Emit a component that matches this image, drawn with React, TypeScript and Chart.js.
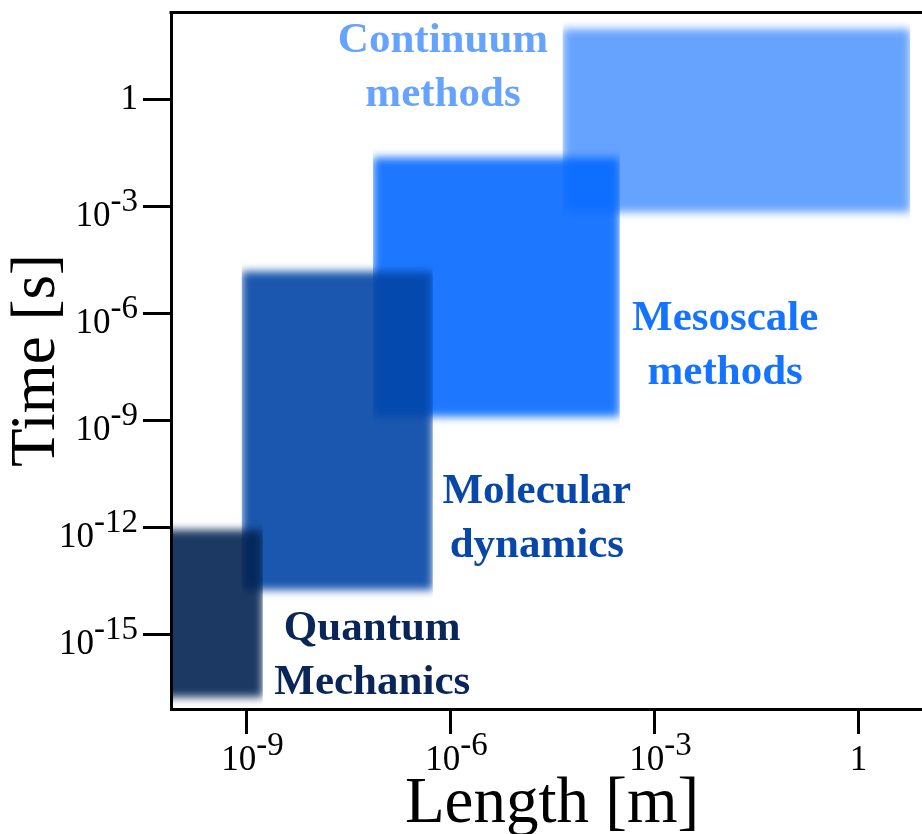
import React, { useEffect, useRef } from 'react';
import { Chart, registerables } from 'chart.js';

Chart.register(...registerables);

// ---- data (log10 values) ----
const methods = ['Quantum Mechanics', 'Molecular dynamics', 'Mesoscale methods', 'Continuum methods'];
const lengthFrom = [-10.3, -9.07, -7.14, -4.35]; // log10 length [m]
const lengthTo = [-8.76, -6.26, -3.51, 0.76];
const timeFrom = [-16.77, -13.76, -8.9, -3.17]; // log10 time [s]
const timeTo = [-12.08, -4.83, -1.63, 1.97];
const xTickExponents = [-9, -6, -3, 0];
const yTickExponents = [0, -3, -6, -9, -12, -15];
const labelLines = [
  ['Quantum', 'Mechanics'],
  ['Molecular', 'dynamics'],
  ['Mesoscale', 'methods'],
  ['Continuum', 'methods'],
];

// ---- styles ----
const fillColors = [
  'rgba(3,35,83,0.9)',
  'rgba(2,69,165,0.9)',
  'rgba(5,105,255,0.9)',
  'rgba(85,153,255,0.9)',
];
const textColors = ['#0a2659', '#0747aa', '#1474ff', '#66a3ff'];
// label anchors (data units): centre x, first baseline y
const labelAnchorX = [-7.15, -4.73, -1.96, -6.11];
const labelAnchorY = [-15.17, -11.32, -6.46, 1.32];
const SERIF = '"Liberation Serif", "Times New Roman", serif';

function drawPower(ctx: CanvasRenderingContext2D, exp: number, x: number, baseY: number, mode: 'right' | 'center') {
  ctx.fillStyle = '#000';
  ctx.textBaseline = 'alphabetic';
  ctx.textAlign = 'left';
  if (exp === 0) {
    ctx.font = `35px ${SERIF}`;
    const w = ctx.measureText('1').width;
    const sx = mode === 'right' ? x - w : x - w / 2;
    ctx.fillText('1', sx, baseY);
    return;
  }
  ctx.font = `35px ${SERIF}`;
  const w1 = ctx.measureText('10').width;
  ctx.font = `33px ${SERIF}`;
  const es = String(exp);
  const w2 = ctx.measureText(es).width;
  const sx = mode === 'right' ? x - w1 - w2 : x - (w1 + w2) / 2 + 6;
  ctx.font = `35px ${SERIF}`;
  ctx.fillText('10', sx, baseY);
  ctx.font = `33px ${SERIF}`;
  ctx.fillText(es, sx + w1, baseY - 15);
}

const blurPlugin = {
  id: 'blurBoxes',
  beforeDatasetsDraw(chart: any) {
    chart.ctx.save();
    chart.ctx.filter = 'blur(4px)';
  },
  afterDatasetsDraw(chart: any) {
    chart.ctx.restore();
  },
};

const decorPlugin = {
  id: 'decor',
  afterDraw(chart: any) {
    const ctx: CanvasRenderingContext2D = chart.ctx;
    const { left, top } = chart.chartArea;
    const xs = chart.scales.x;
    const ys = chart.scales.y;
    ctx.save();
    // top frame line
    ctx.strokeStyle = '#000';
    ctx.lineWidth = 3;
    ctx.beginPath();
    ctx.moveTo(left - 1.5, top + 0.5);
    ctx.lineTo(chart.width, top + 0.5);
    ctx.stroke();
    // tick labels
    yTickExponents.forEach((e) => {
      const py = ys.getPixelForValue(e);
      drawPower(ctx, e, 138, py + (e === 0 ? 10 : 20), 'right');
    });
    xTickExponents.forEach((e) => {
      const px = xs.getPixelForValue(e);
      drawPower(ctx, e, px, 770, 'center');
    });
    // method labels
    ctx.font = `bold 43px ${SERIF}`;
    ctx.textAlign = 'center';
    ctx.textBaseline = 'alphabetic';
    labelLines.forEach((lines, i) => {
      const px = xs.getPixelForValue(labelAnchorX[i]);
      const py = ys.getPixelForValue(labelAnchorY[i]);
      ctx.fillStyle = textColors[i];
      lines.forEach((t, j) => ctx.fillText(t, px, py + j * 54));
    });
    ctx.restore();
  },
};

export default function App() {
  const ref = useRef<HTMLCanvasElement | null>(null);
  useEffect(() => {
    if (!ref.current) return;
    const chart = new Chart(ref.current, {
      type: 'line',
      data: {
        datasets: methods.map((m, i) => ({
          label: m,
          data: [
            { x: lengthFrom[i], y: timeTo[i] },
            { x: lengthTo[i], y: timeTo[i] },
          ],
          fill: { value: timeFrom[i] },
          backgroundColor: fillColors[i],
          borderColor: 'rgba(0,0,0,0)',
          borderWidth: 0,
          pointRadius: 0,
          pointHoverRadius: 0,
          tension: 0,
        })),
      },
      options: {
        animation: false,
        responsive: false,
        events: [],
        layout: { padding: { top: 12, left: 0, right: 0, bottom: 0 } },
        plugins: { legend: { display: false }, tooltip: { enabled: false } },
        scales: {
          x: {
            type: 'linear',
            min: -10.11,
            max: 1.096,
            afterBuildTicks: (s: any) => {
              s.ticks = xTickExponents.map((v) => ({ value: v }));
            },
            afterFit: (s: any) => {
              s.height = 125;
            },
            grid: { display: true, drawOnChartArea: false, drawTicks: true, tickLength: 25, tickWidth: 3, tickColor: '#000' },
            border: { display: true, width: 3, color: '#000', z: 1 },
            ticks: { display: false },
            title: {
              display: true,
              text: 'Length [m]',
              color: '#000',
              font: { family: SERIF, size: 65, lineHeight: 0.9 },
              padding: { top: 0, bottom: 0 },
            },
          },
          y: {
            type: 'linear',
            min: -17.1,
            max: 2.45,
            afterBuildTicks: (s: any) => {
              s.ticks = yTickExponents.map((v) => ({ value: v }));
            },
            afterFit: (s: any) => {
              s.width = 171;
            },
            grid: { display: true, drawOnChartArea: false, drawTicks: true, tickLength: 28, tickWidth: 3, tickColor: '#000' },
            border: { display: true, width: 3, color: '#000', z: 1 },
            ticks: { display: false },
            title: {
              display: true,
              text: 'Time [s]',
              color: '#000',
              font: { family: SERIF, size: 63, lineHeight: 1 },
              padding: { top: 6, bottom: 0 },
            },
          },
        },
      } as any,
      plugins: [blurPlugin, decorPlugin],
    });
    return () => chart.destroy();
  }, []);
  return (
    <div style={{ position: 'absolute', left: 0, top: 0, width: 922, height: 834, overflow: 'hidden', background: '#fff' }}>
      <canvas ref={ref} width={933} height={834} style={{ display: 'block' }} />
    </div>
  );
}
